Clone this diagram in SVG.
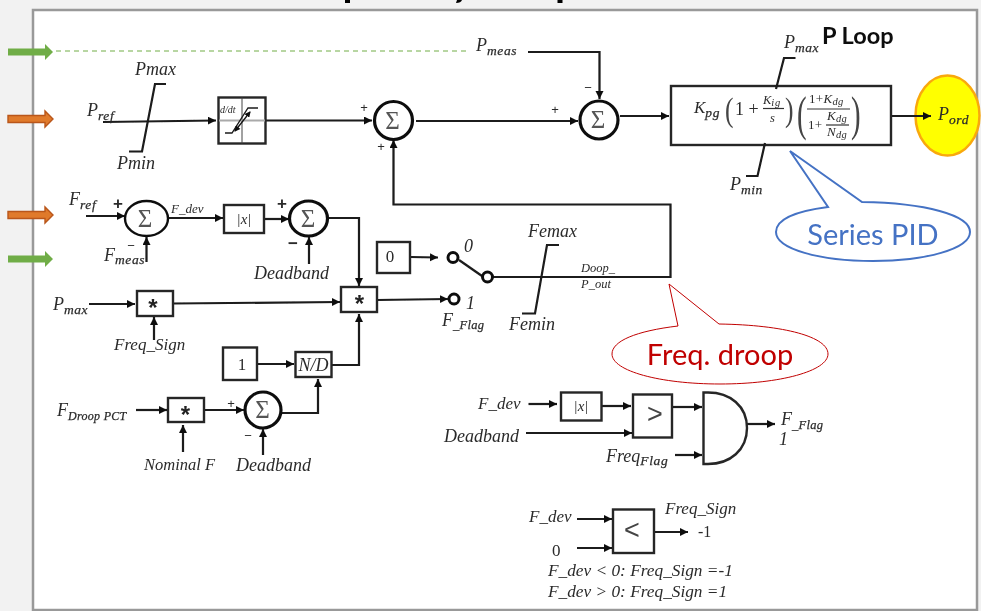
<svg xmlns="http://www.w3.org/2000/svg" width="981" height="611" viewBox="0 0 981 611">
<style>
text{font-family:"Liberation Serif","DejaVu Serif",serif;fill:#2b2b2b}
.i{font-style:italic;font-size:18px}
.i17{font-style:italic;font-size:17px}
.m{font-style:italic;font-size:17px}
.sub{font-size:13.500px;font-style:italic;letter-spacing:.6px;stroke:#2b2b2b;stroke-width:.25}
.flag{font-size:12.500px;letter-spacing:.3px}
.small{font-style:italic;font-size:12.500px}
.c{text-anchor:middle}
.sig{font-size:25px;text-anchor:middle;fill:#555}
.pm{font-family:"Liberation Sans",sans-serif;font-size:13px;text-anchor:middle}
.pb{font-family:"Liberation Sans",sans-serif;font-size:17px;font-weight:bold;text-anchor:middle}
.f{font-size:13px;letter-spacing:.3px}
.fs{font-size:10.500px;font-style:italic}
.w{fill:none;stroke:#1a1a1a;stroke-width:2.200}
.a{fill:none;stroke:#1a1a1a;stroke-width:2.200;marker-end:url(#ah)}
.b{fill:#fff;stroke:#262626;stroke-width:2.400}
.s3{fill:#fff;stroke:#111;stroke-width:3.200}
.s2{fill:#fff;stroke:#111;stroke-width:2.400}
.sw{fill:#fff;stroke:#111;stroke-width:3}
.star{font-family:"Liberation Sans",sans-serif;font-size:24px;font-weight:bold;text-anchor:middle;fill:#222}
.cal{font-family:Lato,"Open Sans",sans-serif;font-size:29px;text-anchor:middle}
</style>
<defs>
<marker id="ah" markerUnits="userSpaceOnUse" markerWidth="10" markerHeight="10" refX="8" refY="4" orient="auto"><path d="M0,0 L8,4 L0,8 Z" fill="#111"/></marker>
<marker id="ahs" markerUnits="userSpaceOnUse" markerWidth="7" markerHeight="6" refX="5" refY="3" orient="auto"><path d="M0,0 L6,3 L0,6 Z" fill="#111"/></marker>
<marker id="ahst" markerUnits="userSpaceOnUse" markerWidth="7" markerHeight="6" refX="1" refY="3" orient="auto"><path d="M6,0 L0,3 L6,6 Z" fill="#111"/></marker>
<path id="garrow" d="M8,-3.500 H45 V-8 L53,0 L45,8 V3.500 H8 Z"/>
<filter id="soft" x="-2%" y="-2%" width="104%" height="104%"><feGaussianBlur stdDeviation="0.45"/></filter>
</defs>
<rect width="981" height="611" fill="#f2f2f2"/>
<rect x="33" y="10" width="944" height="600" fill="#fff" stroke="#999" stroke-width="2.500"/>
<g id="title-clip" fill="#000">
<rect x="345" y="0" width="5" height="3"/>
<path d="M456,3 Q461,3 462,0 H457 Z"/>
<rect x="557.500" y="0" width="5" height="3"/>
</g>
<g id="side-arrows">
<use href="#garrow" y="52" fill="#70ad47"/>
<use href="#garrow" y="119" fill="#e07a2b" stroke="#b9561a" stroke-width="1.400"/>
<use href="#garrow" y="215" fill="#e07a2b" stroke="#b9561a" stroke-width="1.400"/>
<use href="#garrow" y="259" fill="#70ad47"/>
</g>
<g filter="url(#soft)">
<g id="pord"><ellipse cx="947.500" cy="115.500" rx="32" ry="40" fill="#ffff00" stroke="#f9a80d" stroke-width="2.500"/><text class="i" x="938" y="120">P<tspan class="sub" dy="4">ord</tspan></text></g>
<g id="connectors">
<path d="M56,51 H467" fill="none" stroke="#70ad47" stroke-width="1" stroke-dasharray="5 4"/>
<path class="a" d="M103,122 L216,120.500"/>
<path class="a" d="M266,120.500 H372"/>
<path class="a" d="M416,121 H578"/>
<path class="a" d="M528,52 H599.500 V99"/>
<path class="a" d="M620,116 H669"/>
<path class="a" d="M891,116 H931"/>
<path class="a" d="M492,277 H670.500 V204.500 H393.500 V140"/>
<path class="a" d="M86,216 H125"/>
<path class="a" d="M168,218 H223"/>
<path class="a" d="M264,219 H289"/>
<path class="a" d="M146.500,262 V237"/>
<path class="a" d="M309,264 V237"/>
<path class="a" d="M328,218 H359 V286"/>
<path class="a" d="M410,257 L438,257.500"/>
<path class="a" d="M377,300 L448,299"/>
<path class="a" d="M89,304 H135"/>
<path class="a" d="M173,303.500 L340,302"/>
<path class="a" d="M154,340 V317"/>
<path class="a" d="M257,364 H294"/>
<path class="a" d="M331,365 H359 V314"/>
<path class="a" d="M136,410 H167"/>
<path class="a" d="M183,452 V425"/>
<path class="a" d="M204,410 H244"/>
<path class="a" d="M263,455 V429"/>
<path class="a" d="M282,413 H318 V379"/>
<path class="a" d="M528.500,404 H557"/>
<path class="a" d="M601,406 H631"/>
<path class="a" d="M526,433 H632"/>
<path class="a" d="M673,407 H702"/>
<path class="a" d="M675,455 H702"/>
<path class="a" d="M747,424 H775"/>
<path class="a" d="M577,519 H612"/>
<path class="a" d="M577,548 H612"/>
<path class="a" d="M654,532 H688"/>
<path class="w" d="M459,260 L482,276"/>
</g>
<g id="pref-limiter">
<path class="w" d="M129,151.500 H142 L155,84 H166"/>
<text class="i" x="135" y="75">Pmax</text>
<text class="i" x="117" y="169">Pmin</text>
<text class="i" x="87" y="116">P<tspan class="sub" dy="4">ref</tspan></text>
</g>
<g id="ramp-block">
<rect class="b" x="218.500" y="97.500" width="47" height="46"/>
<path d="M242,97.500 V143.500" stroke="#444" stroke-width="1" fill="none"/>
<path d="M219,120.500 H265" stroke="#aaa" stroke-width="2" fill="none"/>
<text x="220" y="113" style="font-size:10px;font-style:italic">d/dt</text>
<path class="w" style="stroke-width:1.300" d="M225,133 H232 L248,108 H258"/>
<path style="fill:none;stroke:#111;stroke-width:1.300;marker-start:url(#ahst);marker-end:url(#ahs)" d="M235,131 L250,112"/>
</g>
<g id="sum-1"><circle class="s3" cx="393.500" cy="120.500" r="19"/><text class="sig" x="392.500" y="129">Σ</text><text class="pm" x="364" y="112">+</text><text class="pm" x="381" y="151">+</text></g>
<g id="sum-2"><circle class="s3" cx="599" cy="120" r="19"/><text class="sig" x="598" y="128">Σ</text><text class="pm" x="555" y="114">+</text><text class="pm" x="588" y="92">−</text></g>
<g id="pmeas"><text class="i" x="476" y="51">P<tspan class="sub" dy="4">meas</tspan></text></g>
<g id="pid-block">
<rect class="b" x="671" y="86" width="220" height="59"/>
<text class="m" x="694" y="113">K<tspan class="sub" dy="4">pg</tspan></text>
<text transform="translate(725,121) scale(.75,1)" style="font-size:34px;fill:#444">(</text>
<text x="735" y="115" style="font-size:18px">1 +</text>
<text x="763" y="104" style="font-size:12.500px;font-style:italic">K<tspan class="fs" dy="2" letter-spacing=".8">ig</tspan></text>
<path d="M763,108.500 H784" stroke="#333" stroke-width="1.200" fill="none"/>
<text class="small" x="770" y="122">s</text>
<text transform="translate(785,121) scale(.75,1)" style="font-size:34px;fill:#444">)</text>
<text transform="translate(797,130) scale(.6,1)" style="font-size:48px;fill:#444">(</text>
<text class="f" x="809" y="103">1+<tspan font-style="italic">K</tspan><tspan class="fs" dy="2">dg</tspan></text>
<path d="M807,109 H850" stroke="#333" stroke-width="1.200" fill="none"/>
<text class="f" x="808" y="129">1+</text>
<text class="f" x="827" y="120" font-style="italic">K<tspan class="fs" dy="2">dg</tspan></text>
<path d="M826,125 H849" stroke="#333" stroke-width="1.200" fill="none"/>
<text class="f" x="827" y="136" font-style="italic">N<tspan class="fs" dy="2">dg</tspan></text>
<text transform="translate(851,130) scale(.6,1)" style="font-size:48px;fill:#444">)</text>
</g>
<g id="pid-limits">
<path class="w" d="M776,89 L784,58 H795.500"/>
<path class="w" d="M765,143 L757.500,176 H746"/>
<text class="i" x="784" y="48">P<tspan class="sub" dy="4" style="letter-spacing:.5px">max</tspan></text>
<text class="i" x="730" y="190">P<tspan class="sub" dy="4" style="letter-spacing:.5px">min</tspan></text>
</g>
<g id="p-loop"><text x="822" y="44" style="font-family:Lato,'Open Sans',sans-serif;font-weight:700;font-size:23.500px;fill:#111">P Loop</text></g>
<g id="fref"><text class="i" x="69" y="205">F<tspan class="sub" dy="4">ref</tspan></text><text class="pb" x="118" y="209">+</text><text class="pm" x="131" y="250">−</text><text class="i" x="104" y="261">F<tspan class="sub" dy="3">meas</tspan></text></g>
<g id="sum-3"><ellipse class="s2" cx="146.500" cy="218.500" rx="21.500" ry="17.500"/><text class="sig" x="145" y="227">Σ</text></g>
<g id="fdev-label"><text class="small" x="171" y="213" style="font-size:13px">F_dev</text></g>
<g id="abs-1"><rect class="b" x="224" y="205" width="40" height="28"/><text class="m c" x="244" y="224" style="font-size:15px">|x|</text></g>
<g id="sum-4"><ellipse class="s3" cx="308.500" cy="218.500" rx="19" ry="17.500"/><text class="sig" x="308" y="227">Σ</text><text class="pb" x="282" y="209">+</text><text class="pb" x="293" y="249">−</text></g>
<g id="deadband-1"><text class="i" x="254" y="279">Deadband</text></g>
<g id="zero-box"><rect class="b" x="377" y="242" width="33" height="31"/><text x="390" y="262" class="c" style="font-size:17px">0</text></g>
<g id="switch">
<circle class="sw" cx="453" cy="257.500" r="5"/>
<circle class="sw" cx="487.500" cy="277" r="5"/>
<circle class="sw" cx="454" cy="299" r="5"/>
<text class="i" x="464" y="252">0</text>
<text class="i" x="466" y="309">1</text>
<text class="i" x="442" y="326">F<tspan class="sub flag" dy="3">_Flag</tspan></text>
</g>
<g id="fe-limiter">
<path class="w" d="M522,313.500 H535 L547,245 H559"/>
<text class="i" x="528" y="237">Femax</text>
<text class="i" x="509" y="330">Femin</text>
<text class="small" x="581" y="272">Doop_</text>
<text class="small" x="581" y="288">P_out</text>
</g>
<g id="mult-main"><rect class="b" x="341" y="287" width="36" height="25"/><text class="star" x="359.500" y="312">*</text></g>
<g id="mult-pmax"><rect class="b" x="137" y="291" width="36" height="25"/><text class="star" x="153" y="316">*</text><text class="i" x="53" y="310">P<tspan class="sub" dy="4" style="letter-spacing:.5px">max</tspan></text><text class="i17" x="114" y="350">Freq_Sign</text></g>
<g id="one-box"><rect class="b" x="223" y="347.500" width="34" height="32.500"/><text class="c" x="242" y="370" style="font-size:17px">1</text></g>
<g id="nd-block"><rect class="b" x="295.500" y="352" width="36" height="25"/><text class="i c" x="313.500" y="371">N/D</text></g>
<g id="mult-droop"><rect class="b" x="168" y="398" width="36" height="24"/><text class="star" x="185.500" y="423">*</text><text class="i" x="57" y="416">F<tspan class="sub" dy="4" style="font-size:12px;letter-spacing:.3px">Droop PCT</tspan></text><text class="i" x="144" y="470" style="font-size:16.500px">Nominal F</text></g>
<g id="sum-5"><circle class="s3" cx="263" cy="410" r="18"/><text class="sig" x="262.500" y="418">Σ</text><text class="pm" x="231" y="408">+</text><text class="pm" x="248" y="440">−</text><text class="i" x="236" y="471">Deadband</text></g>
<g id="abs-2"><rect class="b" x="561" y="392.500" width="40.500" height="28"/><text class="m c" x="581" y="411" style="font-size:15px">|x|</text><text class="i17" x="478" y="409">F_dev</text><text class="i" x="444" y="442">Deadband</text></g>
<g id="gt-block"><rect class="b" x="633" y="394.500" width="39" height="43"/><text x="655" y="423" class="c" style="font-family:'Liberation Sans',sans-serif;font-size:27px;fill:#444">&gt;</text></g>
<g id="and-gate"><path class="b" d="M703.500,392.500 H708 C730,392.500 747,406 747,428 C747,450 730,464 708,464 H703.500 Z"/>
<text class="i" x="606" y="462">Freq<tspan class="sub" dy="3">Flag</tspan></text>
<text class="i" x="781" y="425">F<tspan class="sub flag" dy="4">_Flag</tspan></text>
<text class="i" x="779" y="445">1</text></g>
<g id="lt-block"><rect class="b" x="613" y="509.500" width="41" height="43.500"/><text x="632" y="539" class="c" style="font-family:'Liberation Sans',sans-serif;font-size:27px;fill:#444">&lt;</text>
<text class="i17" x="529" y="522">F_dev</text>
<text x="552" y="556" style="font-size:17px">0</text>
<text class="i17" x="665" y="514">Freq_Sign</text>
<text x="698" y="537" style="font-size:16px">-1</text>
<text class="i17" x="548" y="576" style="font-size:17.300px">F_dev &lt; 0: Freq_Sign =-1</text>
<text class="i17" x="548" y="597" style="font-size:17.300px">F_dev &gt; 0: Freq_Sign =1</text></g>
<g id="callout-series"><path d="M790,151 L862,202 C925,203 970,215 970,232 C970,249 925,261 873,261 C820,261 776,249 776,232 C776,219 797,211 828,207 Z" fill="#fff" stroke="#4472c4" stroke-width="2"/><text class="cal" x="873" y="245" style="fill:#4472c4">Series PID</text></g>
<g id="callout-droop"><path d="M669,284 L719,324 C785,325 828,337 828,354 C828,371 780,384 720,384 C660,384 612,371 612,354 C612,341 636,331 678,326 Z" fill="#fff" stroke="#c00000" stroke-width="1"/><text class="cal" x="720" y="365" style="fill:#c00000">Freq. droop</text></g>
</g>
</svg>
